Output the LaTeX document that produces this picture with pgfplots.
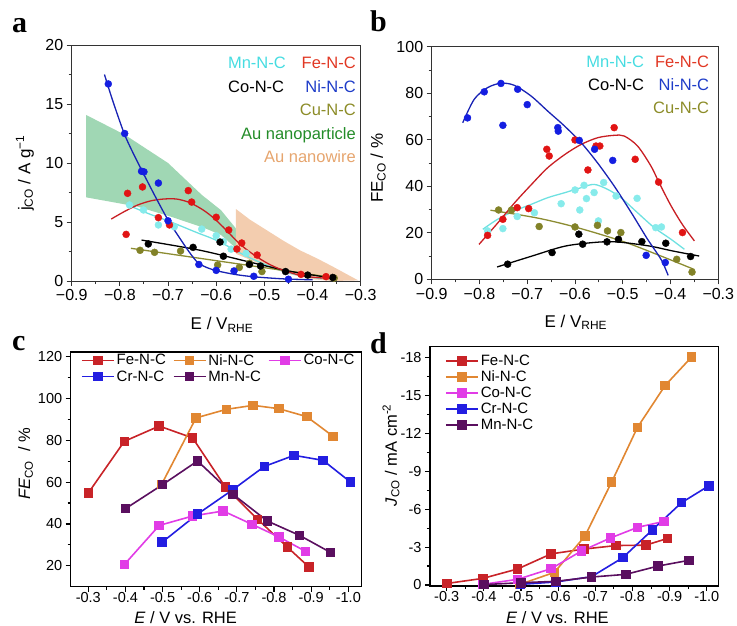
\documentclass[border=0pt]{standalone}
\usepackage{pgfplots}
\pgfplotsset{compat=1.18}
\usepackage{fontspec}
\setmainfont{Liberation Sans}
\newfontfamily\lettfont{Liberation Serif}
% panels a,b colours
\definecolor{MnM}{RGB}{135,235,235}
\definecolor{MnL}{RGB}{110,225,225}
\definecolor{MnT}{RGB}{70,220,225}
\definecolor{FeM}{RGB}{225,20,20}
\definecolor{FeL}{RGB}{200,30,35}
\definecolor{FeT}{RGB}{225,55,35}
\definecolor{NiM}{RGB}{20,30,225}
\definecolor{NiL}{RGB}{25,35,180}
\definecolor{NiT}{RGB}{30,60,200}
\definecolor{CuM}{RGB}{130,130,40}
\definecolor{CuL}{RGB}{140,140,50}
\definecolor{CuT}{RGB}{140,140,40}
\definecolor{NPT}{RGB}{35,140,40}
\definecolor{NPF}{RGB}{160,215,180}
\definecolor{NWT}{RGB}{230,165,110}
\definecolor{NWF}{RGB}{243,205,175}
% panels c,d colours
\definecolor{cFe}{RGB}{200,35,40}
\definecolor{cNi}{RGB}{225,135,50}
\definecolor{cCo}{RGB}{225,60,230}
\definecolor{cCr}{RGB}{35,30,225}
\definecolor{cMn}{RGB}{90,15,95}
\pgfplotsset{
 abstyle/.style={scale only axis, anchor=north west, clip=false,
   xmin=-0.9, xmax=-0.3,
   xtick={-0.9,-0.8,-0.7,-0.6,-0.5,-0.4,-0.3},
   xticklabels={−0.9,−0.8,−0.7,−0.6,−0.5,−0.4,−0.3},
   minor x tick num=1, minor y tick num=1,
   tick align=outside, tick pos=left,
   axis line style={draw=black!80, line width=0.9pt},
   tick style={black!80, line width=0.9pt},
   major tick length=5pt, minor tick length=3pt,
   tick label style={font=\fontsize{16}{19}\selectfont},
   label style={font=\fontsize{17}{20}\selectfont},
   xlabel={E / V\textsubscript{RHE}},
 },
 sc/.style={only marks, mark=*, mark size=3.5pt, mark options={draw=none}},
 ft/.style={no marks, smooth, line width=1.3pt},
 cdstyle/.style={scale only axis, anchor=north west, clip=false,
   x dir=reverse,
   xtick={-0.3,-0.4,-0.5,-0.6,-0.7,-0.8,-0.9,-1.0},
   xticklabels={-0.3,-0.4,-0.5,-0.6,-0.7,-0.8,-0.9,-1.0},
   minor x tick num=1, minor y tick num=1,
   tick align=outside, tick pos=left,
   axis line style={line width=1.3pt},
   tick style={black, line width=1.1pt},
   major tick length=5pt, minor tick length=3pt,
   tick label style={font=\fontsize{14.5}{17}\selectfont},
   xticklabel shift=-3pt,
   label style={font=\fontsize{16.5}{19}\selectfont},
   xlabel={\textit{E} / V vs. RHE},
   legend image code/.code={\draw[mark repeat=2,mark phase=2] plot coordinates {(0pt,0pt) (16pt,0pt) (32pt,0pt)};},
   legend cell align=left,
 },
 ln/.style={line width=1.6pt, mark=square*, mark size=4pt, mark options={solid}},
}
\begin{document}
\begin{tikzpicture}
% ================= panel a =================
\begin{axis}[abstyle, at={(71.7pt,-45pt)}, width=289pt, height=236pt,
  ymin=0, ymax=20, ytick={0,5,10,15,20}, yticklabels={0,5,10,15,20},
  ylabel={j\textsubscript{CO} / A g\textsuperscript{−1}},
  xlabel style={at={(axis description cs:0.52,-0.186)}, anchor=center},
  ylabel style={at={(axis description cs:-0.162,0.458)}, anchor=center},
]
\addplot[fill=NPF, draw=none] coordinates {(-0.870,14.07) (-0.79,12.4) (-0.70,10.0) (-0.63,7.3) (-0.59,6.0) (-0.56,4.5) (-0.522,2.1) (-0.525,1.9) (-0.565,3.0) (-0.59,3.9) (-0.625,4.5) (-0.694,5.45) (-0.763,6.3) (-0.870,7.09)} -- cycle;
\addplot[fill=NWF, draw=none] coordinates {(-0.559,6.1) (-0.53,5.2) (-0.495,4.3) (-0.46,3.4) (-0.426,2.6) (-0.39,1.9) (-0.357,1.2) (-0.33,0.6) (-0.305,0.05) (-0.36,0.0) (-0.40,0.15) (-0.45,0.6) (-0.50,1.3) (-0.559,2.3)} -- cycle;
% Mn
\addplot[sc, color=MnM] coordinates {(-0.780,6.44) (-0.751,6.02) (-0.720,4.75) (-0.687,4.60) (-0.630,4.40) (-0.600,3.84) (-0.585,3.33) (-0.569,2.7) (-0.538,2.34)};
\addplot[ft, color=MnL] coordinates {(-0.787,6.5) (-0.74,5.7) (-0.694,5.0) (-0.64,4.1) (-0.597,3.4) (-0.537,2.1) (-0.48,1.1) (-0.43,0.5) (-0.38,0.2)};
% Cu
\addplot[sc, color=CuM] coordinates {(-0.758,2.6) (-0.728,2.43) (-0.674,2.54) (-0.597,1.36) (-0.552,1.15) (-0.531,1.5) (-0.505,0.8) (-0.355,0.25)};
\addplot[ft, color=CuL] coordinates {(-0.777,2.77) (-0.348,0.23)};
% Co
\addplot[sc, color=black] coordinates {(-0.741,3.14) (-0.648,2.85) (-0.592,3.3) (-0.585,2.1) (-0.531,1.4) (-0.508,1.27) (-0.456,0.8) (-0.410,0.5) (-0.358,0.3)};
\addplot[ft, color=black] coordinates {(-0.755,3.47) (-0.633,2.6) (-0.53,1.6) (-0.45,0.85) (-0.355,0.22)};
% Fe
\addplot[sc, color=FeM] coordinates {(-0.784,7.43) (-0.753,7.97) (-0.787,3.95) (-0.720,5.37) (-0.697,4.75) (-0.658,7.66) (-0.651,6.69) (-0.600,5.40) (-0.574,4.32) (-0.547,3.22) (-0.557,2.71) (-0.515,2.20) (-0.424,0.56) (-0.372,0.37)};
\addplot[ft, color=FeL] coordinates {(-0.818,5.25) (-0.790,5.9) (-0.763,6.44) (-0.735,6.8) (-0.708,6.95) (-0.683,6.95) (-0.660,6.72) (-0.643,6.4) (-0.625,5.96) (-0.607,5.4) (-0.590,4.75) (-0.573,4.05) (-0.556,3.33) (-0.538,2.7) (-0.521,2.2) (-0.504,1.75) (-0.487,1.36) (-0.470,1.05) (-0.452,0.79) (-0.435,0.58) (-0.417,0.42) (-0.395,0.3) (-0.369,0.23)};
% Ni
\addplot[sc, color=NiM] coordinates {(-0.824,16.7) (-0.790,12.5) (-0.755,9.3) (-0.750,9.25) (-0.720,8.3) (-0.700,5.1) (-0.636,1.4) (-0.600,0.9) (-0.563,0.85) (-0.522,0.4) (-0.450,0.15)};
\addplot[ft, color=NiL] coordinates {(-0.832,17.5) (-0.815,15.3) (-0.791,12.5) (-0.772,10.8) (-0.753,9.26) (-0.727,7.2) (-0.70,5.17) (-0.673,3.47) (-0.655,2.4) (-0.638,1.55) (-0.62,1.15) (-0.597,0.85) (-0.56,0.55) (-0.52,0.35) (-0.46,0.18) (-0.40,0.1)};
\end{axis}
% ================= panel b =================
\begin{axis}[abstyle, at={(431.7pt,-46.7pt)}, width=286.6pt, height=232.6pt,
  ymin=0, ymax=100, ytick={0,20,40,60,80,100}, yticklabels={0,20,40,60,80,100},
  ylabel={FE\textsubscript{CO} / \%},
  xlabel style={at={(axis description cs:0.503,-0.185)}, anchor=center},
  ylabel style={at={(axis description cs:-0.187,0.478)}, anchor=center},
]
% Mn
\addplot[sc, color=MnM] coordinates {(-0.783,20.8) (-0.751,21.8) (-0.721,27) (-0.685,28.6) (-0.629,32.5) (-0.600,38.4) (-0.590,29.8) (-0.581,40.4) (-0.576,34.7) (-0.560,37.3) (-0.551,25.1) (-0.540,41.6) (-0.514,35.8) (-0.470,34.8) (-0.431,22.2) (-0.419,22.5)};
\addplot[ft, color=MnL] coordinates {(-0.793,21.5) (-0.762,25.8) (-0.727,29.4) (-0.692,32.2) (-0.657,35.1) (-0.622,37.2) (-0.587,39.4) (-0.56,40.8) (-0.532,38.7) (-0.504,35.1) (-0.469,28.6) (-0.434,22.2) (-0.399,17.2) (-0.371,12.9)};
% Cu
\addplot[sc, color=CuM] coordinates {(-0.760,29.8) (-0.733,29.8) (-0.675,22.7) (-0.600,22.5) (-0.553,23.2) (-0.532,20.8) (-0.504,20.1) (-0.387,8.6) (-0.355,3.1)};
\addplot[ft, color=CuL] coordinates {(-0.777,29.7) (-0.68,26.4) (-0.6,22.5) (-0.5,16.3) (-0.42,10.0) (-0.35,4.2)};
% Co
\addplot[sc, color=black] coordinates {(-0.741,6.5) (-0.648,11.5) (-0.592,19.4) (-0.584,15.1) (-0.533,16.1) (-0.509,17.2) (-0.460,16.2) (-0.410,15.5) (-0.358,9.8)};
\addplot[ft, color=black] coordinates {(-0.763,5.3) (-0.69,10) (-0.62,14.3) (-0.55,16) (-0.508,16) (-0.444,14.3) (-0.396,12.2) (-0.34,10)};
% Fe
\addplot[sc, color=FeM] coordinates {(-0.783,18.9) (-0.751,25.8) (-0.721,30.8) (-0.697,30.4) (-0.659,55.9) (-0.654,53.0) (-0.600,59.9) (-0.573,47.0) (-0.556,57.3) (-0.548,57.3) (-0.518,65.2) (-0.474,51.6) (-0.425,41.8) (-0.375,20.1)};
\addplot[ft, color=FeL] coordinates {(-0.801,15) (-0.761,24.4) (-0.726,33) (-0.691,40.8) (-0.657,48) (-0.621,53.7) (-0.587,58) (-0.552,60.9) (-0.518,61.9) (-0.497,61.6) (-0.469,57.3) (-0.441,48.7) (-0.425,42) (-0.40,32) (-0.375,23.5) (-0.35,16.5)};
% Ni
\addplot[sc, color=NiM] coordinates {(-0.825,69.4) (-0.790,80.6) (-0.755,84.2) (-0.720,81.7) (-0.700,75.1) (-0.751,66.2) (-0.636,65.2) (-0.635,63.7) (-0.591,59.7) (-0.559,55.9) (-0.521,51.1) (-0.451,10.3) (-0.411,7.2)};
\addplot[ft, color=NiL] coordinates {(-0.835,67.3) (-0.811,77.4) (-0.783,82.4) (-0.755,84.3) (-0.727,83.4) (-0.692,78.8) (-0.657,72.3) (-0.622,65.9) (-0.587,58.7) (-0.553,50.1) (-0.518,40.1) (-0.482,28.6) (-0.448,17.2) (-0.42,8.6) (-0.405,1.7)};
\end{axis}
% ================= panel c =================
\begin{axis}[cdstyle, at={(70.7pt,-352pt)}, width=291pt, height=234.7pt,
  xmin=-1.036, xmax=-0.2526, ymin=10, ymax=122.2,
  ytick={20,40,60,80,100,120}, yticklabels={20,40,60,80,100,120},
  ylabel={\textit{FE}\textsubscript{CO}\ \ / \%},
  xlabel style={at={(axis description cs:0.395,-0.132)}, anchor=center},
  ylabel style={at={(axis description cs:-0.155,0.523)}, anchor=center},
  legend columns=3,
  legend style={draw=none, fill=none, inner sep=0pt, font=\fontsize{15}{18}\selectfont,
    at={(axis description cs:0.035,1.0)}, anchor=north west,
    /tikz/every even column/.append style={column sep=5pt}},
]
\addplot[ln, color=cFe] coordinates {(-0.3,54.8) (-0.397,79.5) (-0.491,86.8) (-0.581,81.1) (-0.669,57.6) (-0.756,42.2) (-0.836,28.9) (-0.894,19.4)};
\addlegendentry{Fe-N-C}
\addplot[ln, color=cNi] coordinates {(-0.497,58.8) (-0.590,90.7) (-0.672,94.8) (-0.744,96.7) (-0.813,95.1) (-0.888,91.3) (-0.959,81.9)};
\addlegendentry{Ni-N-C}
\addplot[ln, color=cCo] coordinates {(-0.397,20.6) (-0.491,39.3) (-0.581,43.8) (-0.663,46.2) (-0.741,39.8) (-0.814,33.7) (-0.885,26.9)};
\addlegendentry{Co-N-C}
\addplot[ln, color=cCr] coordinates {(-0.499,31.3) (-0.594,44.7) (-0.690,56.5) (-0.774,67.5) (-0.854,72.8) (-0.932,70.4) (-1.006,60.0)};
\addlegendentry{Cr-N-C}
\addplot[ln, color=cMn] coordinates {(-0.4,47.3) (-0.5,58.8) (-0.594,70.1) (-0.690,54.1) (-0.782,41.4) (-0.869,34.5) (-0.952,26.4)};
\addlegendentry{Mn-N-C}
\end{axis}
% ================= panel d =================
\begin{axis}[cdstyle, at={(430pt,-346.7pt)}, width=288.3pt, height=239.3pt,
  xmin=-1.031, xmax=-0.255, y dir=reverse, ymin=-18.84, ymax=0.08,
  ytick={0,-3,-6,-9,-12,-15,-18}, yticklabels={0,-3,-6,-9,-12,-15,-18},
  ylabel={\textit{J}\textsubscript{CO} / mA cm\textsuperscript{-2}},
  xlabel style={at={(axis description cs:0.442,-0.13)}, anchor=center},
  ylabel style={at={(axis description cs:-0.135,0.547)}, anchor=center},
  legend style={draw=none, fill=none, inner sep=0pt, font=\fontsize{15}{18}\selectfont,
    at={(axis description cs:0.052,0.975)}, anchor=north west},
]
\addplot[ln, color=cFe] coordinates {(-0.3,-0.12) (-0.397,-0.52) (-0.491,-1.27) (-0.581,-2.46) (-0.669,-2.84) (-0.756,-3.12) (-0.836,-3.15) (-0.894,-3.68)};
\addlegendentry{Fe-N-C}
\addplot[ln, color=cNi] coordinates {(-0.497,-0.05) (-0.590,-1.0) (-0.672,-3.87) (-0.744,-8.14) (-0.813,-12.44) (-0.888,-15.78) (-0.959,-18.02)};
\addlegendentry{Ni-N-C}
\addplot[ln, color=cCo] coordinates {(-0.397,-0.05) (-0.491,-0.45) (-0.581,-1.29) (-0.663,-2.69) (-0.741,-3.72) (-0.814,-4.56) (-0.885,-5.03)};
\addlegendentry{Co-N-C}
\addplot[ln, color=cCr] coordinates {(-0.499,-0.05) (-0.594,-0.24) (-0.690,-0.66) (-0.774,-2.16) (-0.854,-4.37) (-0.932,-6.51) (-1.006,-7.85)};
\addlegendentry{Cr-N-C}
\addplot[ln, color=cMn] coordinates {(-0.4,-0.03) (-0.5,-0.18) (-0.594,-0.29) (-0.690,-0.63) (-0.782,-0.84) (-0.869,-1.5) (-0.952,-1.95)};
\addlegendentry{Mn-N-C}
\end{axis}
% ================= legends a, b (coloured text) =================
\begin{scope}[every node/.style={font=\fontsize{16.5}{19}\selectfont, inner sep=0pt}]
\node[anchor=base east, text=MnT] at (286pt,-69pt) {Mn-N-C};
\node[anchor=base east, text=FeT] at (356pt,-69pt) {Fe-N-C};
\node[anchor=base east, text=black] at (284.3pt,-92.7pt) {Co-N-C};
\node[anchor=base east, text=NiT] at (356pt,-92.7pt) {Ni-N-C};
\node[anchor=base east, text=CuT] at (356pt,-116pt) {Cu-N-C};
\node[anchor=base east, text=NPT] at (356pt,-139.3pt) {Au nanoparticle};
\node[anchor=base east, text=NWT] at (356pt,-162.7pt) {Au nanowire};
\node[anchor=base east, text=MnT] at (644.3pt,-67pt) {Mn-N-C};
\node[anchor=base east, text=FeT] at (709.3pt,-67pt) {Fe-N-C};
\node[anchor=base east, text=black] at (644.3pt,-90.3pt) {Co-N-C};
\node[anchor=base east, text=NiT] at (709.3pt,-90.3pt) {Ni-N-C};
\node[anchor=base east, text=CuT] at (709.3pt,-113.7pt) {Cu-N-C};
\end{scope}
% ================= panel letters =================
\begin{scope}[every node/.style={font=\lettfont\bfseries\fontsize{30}{32}\selectfont, inner sep=0pt, anchor=base west}]
\node at (12pt,-33pt) {a};
\node at (370pt,-32pt) {b};
\node at (12pt,-350pt) {c};
\node at (370pt,-353pt) {d};
\end{scope}
\pgfresetboundingbox
\path[use as bounding box] (0pt,0pt) rectangle (737pt,-626pt);
\end{tikzpicture}
\end{document}
